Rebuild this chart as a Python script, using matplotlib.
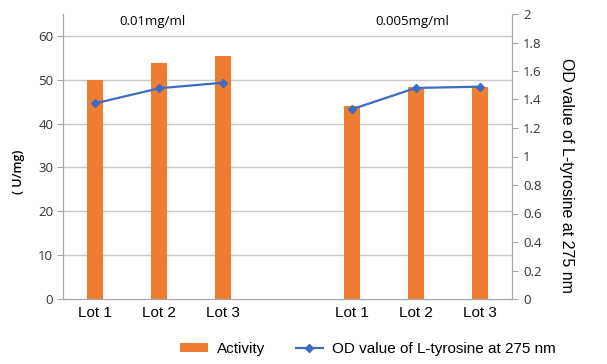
import numpy as np
import matplotlib
matplotlib.use("Agg")
import matplotlib.pyplot as plt

# data (slot 3 is the gap between the two concentrations)
lots = ["Lot 1", "Lot 2", "Lot 3", "", "Lot 1", "Lot 2", "Lot 3"]
activity = [50.0, 53.9, 55.4, np.nan, 44.1, 48.4, 48.4]
od_275 = [1.373, 1.479, 1.518, np.nan, 1.331, 1.481, 1.490]
groups = ["0.01mg/ml", "0.005mg/ml"]
group_x = [0.9, 4.95]

plt.rcParams['font.family'] = ['Open Sans', 'DejaVu Sans']

fig = plt.figure(figsize=(6.07, 3.64), dpi=100)
ax = fig.add_axes([63/607, 1 - 299/364, (512-63)/607, (299-14)/364])
ax2 = ax.twinx()

x = np.arange(len(lots))
bar_color = '#ED7D31'
line_color = '#3E6CC4'
grid_col = '#C8C8C8'
spine_col = '#A6A6A6'

ax.bar(x, activity, width=0.25, color=bar_color, label='Activity', zorder=2)
ax2.plot(x, od_275, color=line_color, marker='D', markersize=4, lw=1.6,
         label='OD value of L-tyrosine at 275 nm', zorder=3)

ax.set_xlim(-0.5, len(lots) - 0.5)
ax.set_ylim(0, 65)
ax2.set_ylim(0, 2)
ax.set_yticks(np.arange(0, 61, 10))
ax2.set_yticks(np.arange(0, 2.01, 0.2))
ax2.set_yticklabels(['0', '0.2', '0.4', '0.6', '0.8', '1', '1.2', '1.4', '1.6', '1.8', '2'])
ax.yaxis.grid(True, color=grid_col, lw=1)
ax.set_axisbelow(True)
ax.yaxis.get_gridlines()[0].set_visible(False)

ax.set_xticks(x)
ax.set_xticklabels(lots, fontsize=11, family=['Liberation Sans', 'DejaVu Sans'])
ax.tick_params(axis='x', length=0, pad=5)
ax.tick_params(axis='y', labelsize=9.5, color=spine_col, length=4, pad=3, colors='#333333')
ax2.tick_params(axis='y', labelsize=9.5, color=spine_col, length=4, pad=4, colors='#333333')

for a in (ax, ax2):
    a.spines['top'].set_visible(False)
    for s in ('left', 'right', 'bottom'):
        a.spines[s].set_color(spine_col)

ax.set_ylabel('( U/mg)', fontsize=9, fontweight='semibold')
ax.yaxis.set_label_coords(-0.085, 0.446)
ax2.set_ylabel('OD value of L-tyrosine at 275 nm', fontsize=11.5, rotation=270,
               family=['Liberation Sans', 'DejaVu Sans'], va='center')
ax2.yaxis.set_label_coords(1.122, 0.435)

for g, gx in zip(groups, group_x):
    ax.text(gx, 63.4, g, ha='center', va='center', fontsize=9.5)

h1, l1 = ax.get_legend_handles_labels()
h2, l2 = ax2.get_legend_handles_labels()
fig.legend(h1 + h2, l1 + l2, loc='center', bbox_to_anchor=(368/607, 1 - 349/364),
           ncol=2, frameon=False, handlelength=1.8, columnspacing=2.0,
           handleheight=0.5, handletextpad=0.6,
           prop={'family': ['Liberation Sans', 'DejaVu Sans'], 'size': 11})

fig.savefig('out.png', dpi=100)
